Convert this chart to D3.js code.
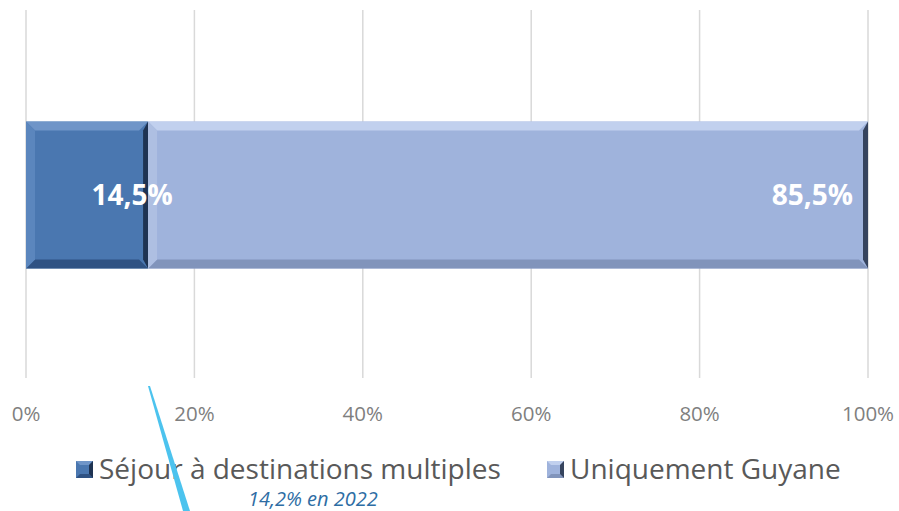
<!DOCTYPE html>
<html lang="fr">
<head>
  <meta charset="UTF-8">
  <title>Séjour à destinations multiples</title>
  <style>
    body {
      margin: 0;
      padding: 0;
      background: #fff;
      font-family: 'Open Sans', 'Noto Sans', sans-serif;
    }
    svg {
      display: block;
    }
  </style>
</head>
<body>

<script src="https://d3js.org/d3.v7.min.js"></script>

<script>
  // Data
  const categories = ['Séjour à destinations multiples', 'Uniquement Guyane'];
  const values = [14.5, 85.5];
  const valueLabels = ['14,5%', '85,5%'];
  const tickValues = [0, 20, 40, 60, 80, 100];
  const note = '14,2% en 2022';

  const width = 899, height = 511;

  const svg = d3.select('body').append('svg')
    .attr('width', width)
    .attr('height', height);

  const x = d3.scaleLinear().domain([0, 100]).range([26, 868]);
  const y = d3.scaleBand().domain(['all']).range([10, 380]).paddingInner(0).paddingOuter(0.76);

  // colours for each segment: face, top, bottom, right
  const colors = [
    { face: '#4a77b0', top: '#6f95c8', bottom: '#2f5283', right: '#1e3352', left: '#5b86bd' },
    { face: '#9fb3dc', top: '#c1d0ee', bottom: '#8194bb', right: '#36445e', left: '#aebfe2' }
  ];

  // gridlines
  svg.append('g')
    .selectAll('line')
    .data(tickValues)
    .enter().append('line')
    .attr('x1', d => x(d))
    .attr('x2', d => x(d))
    .attr('y1', 10)
    .attr('y2', 378)
    .attr('stroke', '#d9d9d9')
    .attr('stroke-width', 1.5);

  // stacked segments
  let cum = 0;
  const segs = values.map((v, i) => {
    const s = { i, x0: cum, x1: cum + v, v };
    cum += v;
    return s;
  });

  const y0 = y('all'), bh = y.bandwidth();
  const bev = 9;

  const seg = svg.append('g').selectAll('g.seg')
    .data(segs)
    .enter().append('g')
    .attr('class', 'seg');

  seg.each(function (d) {
    const g = d3.select(this);
    const c = colors[d.i];
    const l = x(d.x0), r = x(d.x1), t = y0, b = y0 + bh;
    const rb = 5; // darker right edge
    g.append('rect').attr('x', l).attr('y', t).attr('width', r - l).attr('height', bh).attr('fill', c.face);
    // bevel: top
    g.append('polygon').attr('points', [[l, t], [r, t], [r - bev, t + bev], [l + bev, t + bev]].join(' ')).attr('fill', c.top);
    // bottom
    g.append('polygon').attr('points', [[l, b], [r, b], [r - bev, b - bev], [l + bev, b - bev]].join(' ')).attr('fill', c.bottom);
    // left
    g.append('polygon').attr('points', [[l, t], [l + bev, t + bev], [l + bev, b - bev], [l, b]].join(' ')).attr('fill', c.left);
    // right
    g.append('polygon').attr('points', [[r, t], [r - rb, t + bev], [r - rb, b - bev], [r, b]].join(' ')).attr('fill', c.right);
  });

  // value labels (drawn after all segments)
  svg.append('g').selectAll('text')
    .data(segs)
    .enter().append('text')
    .attr('x', d => d.i === 0 ? x(d.x1) - 16 : x(d.x1) - 15)
    .attr('y', y0 + bh / 2 + 10)
    .attr('text-anchor', d => d.i === 0 ? 'middle' : 'end')
    .attr('fill', '#fff')
    .attr('font-size', 28)
    .attr('font-weight', 'bold')
    .text(d => valueLabels[d.i]);

  // x axis labels
  svg.append('g')
    .selectAll('text')
    .data(tickValues)
    .enter().append('text')
    .attr('x', d => x(d))
    .attr('y', 421)
    .attr('text-anchor', 'middle')
    .attr('fill', '#7f7f7f')
    .attr('font-size', 20.5)
    .text(d => d + '%');

  // legend
  const legendX = [76, 547];
  const legend = svg.append('g').selectAll('g')
    .data(categories)
    .enter().append('g')
    .attr('transform', (d, i) => `translate(${legendX[i]},461)`);

  legend.each(function (d, i) {
    const g = d3.select(this);
    const c = colors[i];
    const s = 17, e = 4;
    g.append('rect').attr('width', s).attr('height', s).attr('fill', c.face);
    g.append('polygon').attr('points', [[0, 0], [s, 0], [s - e, e], [e, e]].join(' ')).attr('fill', c.top);
    g.append('polygon').attr('points', [[0, s], [s, s], [s - e, s - e], [e, s - e]].join(' ')).attr('fill', c.bottom);
    g.append('polygon').attr('points', [[s, 0], [s - e, e], [s - e, s - e], [s, s]].join(' ')).attr('fill', c.right);
    g.append('text')
      .attr('x', s + 6)
      .attr('y', 18)
      .attr('fill', '#595959')
      .attr('font-size', 28)
      .text(d);
  });

  // callout line
  svg.append('polygon')
    .attr('points', [[148, 386], [150, 386], [190, 511], [183, 511]].join(' '))
    .attr('fill', '#4cc3ee');

  // note
  svg.append('text')
    .attr('x', 248)
    .attr('y', 506)
    .attr('fill', '#2e6da4')
    .attr('font-size', 20)
    .attr('font-style', 'italic')
    .text(note);
</script>

</body>
</html>
